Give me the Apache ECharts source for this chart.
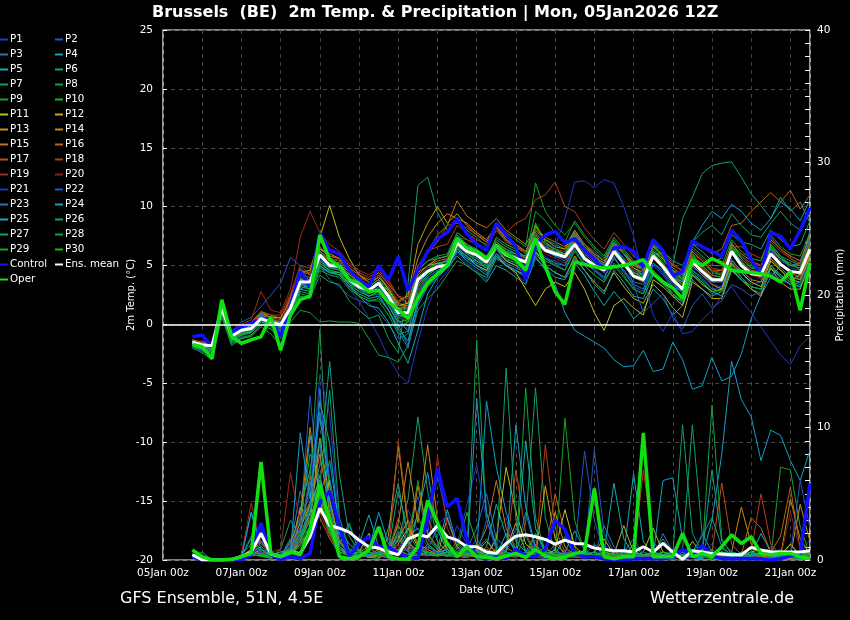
<!DOCTYPE html>
<html><head><meta charset="utf-8">
<script src="https://cdn.jsdelivr.net/npm/echarts@6/dist/echarts.min.js"></script>
<style>html,body{margin:0;padding:0;background:#000}#c{width:850px;height:620px}</style>
</head><body><div id="c"></div>
<script>
const FONT = 'DejaVu Sans';
const TITLE = 'Brussels  (BE)  2m Temp. & Precipitation | Mon, 05Jan2026 12Z';
const FOOT_LEFT = 'GFS Ensemble, 51N, 4.5E';
const FOOT_RIGHT = 'Wetterzentrale.de';
const X_TICK_LABELS = ['05Jan 00z','07Jan 00z','09Jan 00z','11Jan 00z','13Jan 00z','15Jan 00z','17Jan 00z','19Jan 00z','21Jan 00z'];
// forecast steps: hours after 05Jan 00z (05Jan 18z ... 21Jan 12z, every 6 h)
const STEP_HOURS = [];
for (let h = 18; h <= 396; h += 6) STEP_HOURS.push(h);

const MEMBER_NAMES = ['P1','P2','P3','P4','P5','P6','P7','P8','P9','P10','P11','P12','P13','P14','P15','P16','P17','P18','P19','P20','P21','P22','P23','P24','P25','P26','P27','P28','P29','P30'];
const MEMBER_COLORS = ['#2238c0','#1f58c4','#1e78c4','#12a0c8','#10acb0','#12a080','#12a062','#14a044','#14a428','#18b818',
  '#c0c018','#c4a818','#c49818','#c48818','#c07818','#b86418','#b45018','#b03c18','#a02c18','#902018',
  '#2238c0','#1f58c4','#1e78c4','#12a0c8','#10acb0','#12a080','#12a062','#14a044','#14a428','#18b818'];

// 2m temperature (°C)
const tControl = [-1.05,-0.9,-1.9,1.6,-0.75,-0.2,0.1,0.4, 0.5,-1.05,1.6,4.5,3.2,7.7,6.3,6.0, 4.6,3.8,3.2,5.0,3.8,5.75,2.9,4.6, 6.2,7.3,7.8,9.0,7.7,6.8,6.3,8.6, 7.6,6.6,3.8,6.7,7.6,7.9,6.9,7.3, 6.3,5.6,4.5,6.5,6.6,6.2,4.9,7.2, 6.3,4.1,4.5,7.1,6.6,6.2,5.8,8.0, 7.1,5.5,4.2,7.8,7.5,6.4,8.0,9.9];
const tOper = [-1.7,-1.9,-2.9,2.1,-1.05,-1.6,-1.3,-1.05, 0.65,-2.2,0.8,2.1,2.4,7.6,5.5,4.9, 3.8,3.5,2.8,2.9,1.9,1.3,0.5,2.2, 3.5,4.3,5.0,7.3,6.5,6.2,5.6,6.7, 6.0,5.5,4.6,7.3,4.9,2.8,1.7,5.3, 5.1,4.9,4.8,4.9,5.0,5.2,5.5,4.3, 3.6,3.1,2.2,5.5,5.0,5.6,5.2,4.6, 4.5,4.4,4.3,4.1,3.6,4.5,1.2,5.2];
const tMean = [-1.5,-1.75,-1.8,1.4,-1.0,-0.5,-0.35,0.5, 0.2,-0.05,1.4,3.6,3.6,5.9,5.0,4.95, 3.8,3.2,2.9,3.5,2.4,1.0,1.0,3.8, 4.5,4.9,5.0,6.9,6.2,5.9,5.3,6.7, 5.9,5.6,5.3,7.2,6.3,6.0,5.75,6.8, 5.6,5.0,4.6,6.2,5.2,4.1,3.8,5.8, 4.9,3.8,3.0,5.3,4.5,3.8,3.8,6.2, 5.0,4.3,4.2,6.0,5.1,4.5,4.4,6.4];

const tP1 = [-1.9,-2.3,-2.6,0.9,-1.5,-1.0,-0.6,0.3, 0.0,-0.5,1.0,3.2,3.8,6.2,5.5,4.6, 3.0,2.0,0.5,-1.0,-2.8,-4.2,-5.0,-1.5, 1.5,3.5,4.5,6.0,5.2,4.6,3.8,5.6, 5.2,4.2,3.6,6.0,5.8,5.2,4.6,7.0, 6.2,5.0,4.4,6.8,6.0,5.2,4.0,6.2, 5.0,3.6,2.6,4.8,4.4,3.4,3.2,6.0, 5.4,4.6,3.8,6.2,5.6,4.8,4.6,7.2];
const tP2 = [-1.6,-1.4,-1.6,1.5,-0.6,0.2,0.6,1.5, 2.5,3.5,5.7,5.0,4.2,5.0,3.8,3.2, 2.4,2.0,1.8,1.0,0.0,-1.2,-0.8,1.8, 3.5,4.2,5.2,6.5,5.8,5.2,4.8,6.0, 5.5,5.2,4.8,6.4,5.6,5.4,5.0,6.8, 5.6,4.8,4.0,5.6,4.6,3.2,2.8,5.0, 4.2,3.0,2.4,4.6,4.0,3.0,3.2,5.6, 4.4,3.4,3.6,5.6,4.6,3.8,4.2,6.6];
const tP3 = [-1.3,-1.6,-1.9,1.6,-0.8,-0.2,0.0,0.9, 0.5,0.2,2.2,4.0,3.2,5.2,4.5,4.2, 3.5,3.0,2.4,2.8,1.6,0.0,-1.8,2.2, 3.8,4.4,5.4,6.2,5.6,5.0,4.6,6.4, 5.4,5.0,4.6,7.0,6.2,5.8,5.4,6.8, 5.2,4.6,3.8,5.8,4.4,3.4,3.0,5.2, 4.4,3.2,2.8,5.0,4.2,3.6,3.8,6.6, 5.2,4.6,4.4,6.6,5.4,5.0,5.0,7.2];
const tP4 = [-1.4,-1.9,-2.0,1.2,-1.1,-0.5,-0.4,0.4, 0.1,-0.2,1.2,3.4,3.0,5.6,4.8,4.6, 3.6,3.0,2.6,3.2,2.0,0.4,-0.6,2.8, 4.0,4.6,5.0,6.4,5.6,5.4,4.8,6.0, 5.0,4.6,4.0,5.8,4.6,3.4,1.0,-0.5, -1.0,-1.5,-2.0,-3.0,-3.6,-3.5,-2.2,-4.0, -3.8,-1.5,-3.0,-5.5,-5.2,-2.8,-4.8,-4.4, -2.5,0.5,2.5,4.0,5.0,4.5,3.8,6.0];
const tP5 = [-1.5,-1.8,-2.3,1.1,-1.3,-0.8,-0.6,0.6, 0.3,-0.6,1.0,3.0,3.4,5.0,4.4,4.4, 3.4,2.4,1.6,1.4,0.2,-1.6,-3.3,-0.5, 2.6,4.0,4.8,5.8,5.0,4.4,3.6,5.0, 4.6,4.0,3.4,5.6,4.8,4.0,3.8,5.2, 4.2,2.8,1.6,2.8,1.8,0.5,1.2,3.0, 2.2,0.8,1.6,3.8,3.0,2.4,2.8,4.6, 3.8,3.0,2.6,4.8,4.0,3.4,4.4,8.0];
const tP6 = [-1.7,-1.9,-2.1,1.3,-1.0,-0.6,-0.5,0.5, 0.2,0.0,1.6,3.8,3.4,6.0,5.2,5.0, 4.0,3.4,3.0,3.6,2.6,1.4,1.2,4.0, 4.8,5.2,5.4,7.2,6.4,6.2,5.6,7.0, 6.2,6.0,5.8,7.6,6.6,6.2,6.0,7.4, 6.4,5.8,5.0,6.6,5.6,4.8,4.2,6.0, 6.0,5.0,9.0,10.8,12.8,13.5,13.7,13.8, 12.5,11.1,10.1,9.0,10.8,9.6,10.4,8.6];
const tP7 = [-1.8,-2.2,-2.8,1.8,-1.6,-1.2,-1.0,0.0, -0.4,-1.2,0.6,2.4,2.2,4.2,3.6,3.4, 2.0,1.2,0.5,0.8,-1.2,-2.4,3.5,11.8, 12.5,9.5,8.0,8.8,8.0,7.4,6.6,8.0, 7.2,6.6,6.2,8.4,7.2,6.8,6.4,8.0, 6.8,6.0,5.4,7.0,6.2,5.0,4.6,6.6, 5.8,4.4,3.6,6.2,5.4,4.4,4.2,7.0, 5.6,4.8,4.8,6.8,5.8,5.4,5.0,6.2];
const tP8 = [-2.0,-2.4,-3.0,0.6,-1.8,-1.2,-1.0,-0.2, -0.8,-1.8,0.2,1.2,1.0,0.2,0.3,0.2, 0.2,0.1,-1.2,-2.6,-2.8,-3.2,-1.8,1.2, 2.2,3.0,4.2,5.4,5.0,4.4,4.0,5.6, 5.0,4.6,4.0,6.2,5.4,5.0,4.6,6.4, 5.0,4.2,3.6,5.0,4.0,3.0,2.6,4.4, 3.6,2.4,2.0,4.2,3.6,2.6,3.0,5.2, 4.0,3.2,3.0,5.0,4.2,3.6,3.2,5.4];
const tP9 = [-1.6,-1.8,-2.0,1.6,-0.9,-0.4,-0.2,0.7, 0.3,0.1,1.4,3.9,3.8,6.6,5.6,5.4, 4.4,3.8,3.4,4.0,3.0,1.8,1.6,4.6, 5.4,5.8,6.0,7.8,7.2,6.8,6.4,8.6, 7.8,7.2,6.6,12.0,9.6,8.4,7.6,8.6, 7.4,6.4,5.6,7.2,6.2,5.2,4.8,6.4, 5.6,4.4,3.8,5.8,5.2,4.6,4.2,6.8, 5.8,5.0,4.6,6.6,5.6,5.2,4.6,6.4];
const tP10 = [-1.5,-1.9,-2.3,1.9,-1.2,-0.8,-0.6,0.3, 0.0,-0.4,1.3,3.4,3.4,5.8,5.2,5.0, 3.8,3.4,3.0,3.4,2.4,0.8,0.6,3.4, 4.4,4.8,5.6,7.0,6.6,6.0,5.4,7.4, 6.8,6.4,5.6,8.4,7.0,6.4,5.8,7.6, 6.4,5.4,4.6,6.6,5.2,4.2,3.8,6.0, 5.2,4.0,3.4,6.0,4.8,4.0,3.6,6.4, 5.4,4.4,4.2,6.8,5.8,5.0,5.2,7.0];
const tP11 = [-1.4,-1.6,-1.8,1.4,-0.8,-0.4,0.0,1.0, 0.6,0.6,2.0,4.4,4.6,7.4,10.1,7.4, 5.6,4.2,3.6,4.2,3.0,1.6,1.8,4.2, 5.0,5.2,5.0,6.4,5.8,5.0,4.6,5.8, 5.0,4.4,3.0,1.6,3.0,3.6,3.2,4.4, 3.0,1.0,-0.5,1.6,2.2,1.4,0.8,3.8, 3.2,2.4,1.6,4.2,3.4,2.8,3.0,5.2, 4.4,3.6,3.2,5.4,4.6,3.8,3.6,5.8];
const tP12 = [-1.5,-1.7,-2.0,1.2,-1.0,-0.6,-0.4,0.4, 0.1,-0.1,1.5,3.6,3.8,6.4,6.0,5.6, 4.4,3.6,3.2,3.8,2.8,1.4,1.4,4.4, 5.0,5.6,5.8,7.4,6.8,6.2,5.4,6.4, 5.4,5.0,4.2,6.2,5.0,4.4,4.0,5.8, 4.6,3.6,2.8,4.4,3.2,2.2,1.8,3.4, 2.6,1.4,0.6,3.6,3.0,2.2,2.2,4.6, 3.8,3.0,2.4,4.8,3.6,3.0,3.0,5.2];
const tP13 = [-1.6,-1.8,-1.9,1.3,-1.1,-0.6,-0.4,0.5, 0.2,0.0,1.6,3.8,3.6,6.0,5.4,5.2, 4.2,3.6,3.2,3.8,2.8,1.8,2.6,6.8, 8.6,10.0,8.6,9.4,8.4,7.6,7.0,8.2, 7.4,6.8,6.2,8.0,7.2,6.6,6.4,7.8, 6.6,5.8,5.2,6.8,6.0,4.8,4.4,6.2, 5.6,4.6,3.8,5.6,5.0,4.2,4.0,6.2, 5.2,4.4,4.0,6.0,5.2,4.6,4.2,6.0];
const tP14 = [-1.5,-1.6,-1.7,1.5,-0.9,-0.3,-0.1,0.8, 0.5,0.2,1.8,4.2,4.0,6.2,5.6,5.4, 4.6,4.0,3.6,4.0,3.2,2.0,2.4,5.6, 7.4,8.6,9.4,9.0,8.6,7.8,7.2,8.4, 7.2,6.6,6.0,7.4,6.6,6.2,5.6,7.0, 5.8,5.0,4.4,6.0,5.0,4.0,3.6,5.6, 4.8,3.6,3.0,5.0,4.2,3.4,3.0,5.4, 4.6,3.8,3.6,5.6,4.8,4.0,3.8,5.6];
const tP15 = [-1.3,-1.5,-1.6,1.7,-0.7,-0.2,0.2,1.1, 0.8,0.5,2.2,4.6,4.2,6.4,5.8,5.6, 4.8,4.2,3.8,4.4,3.4,2.4,1.8,4.8, 6.2,7.6,8.4,10.5,9.2,8.6,8.2,9.0, 8.0,7.4,6.8,8.2,7.4,7.0,6.6,8.0, 6.8,6.0,5.4,7.0,6.0,5.2,4.6,6.6, 5.8,4.8,4.2,6.2,5.4,4.6,4.6,6.8, 6.0,5.4,5.0,7.2,6.4,5.8,5.4,7.6];
const tP16 = [-1.6,-1.7,-1.8,1.2,-1.0,-0.5,-0.3,0.6, 0.3,0.1,1.6,3.8,3.6,6.0,5.4,5.2, 4.2,3.6,3.2,3.8,2.8,1.4,1.6,4.2, 5.0,5.4,5.6,7.2,6.6,6.2,5.6,7.0, 6.4,6.0,5.6,7.4,6.6,6.2,6.0,7.6, 6.6,5.8,5.2,6.8,6.0,5.0,4.8,6.6, 6.0,5.0,4.6,6.8,6.6,6.0,6.4,8.4, 8.6,9.6,10.4,11.2,10.4,11.4,9.8,11.0];
const tP17 = [-1.7,-1.9,-2.2,1.0,-1.2,-0.7,-0.5,0.6, 0.6,0.4,2.4,4.6,4.4,6.6,5.8,5.6, 4.4,3.6,3.0,3.6,2.4,1.2,1.0,4.6, 6.0,7.0,8.4,8.6,8.2,7.6,7.2,8.2, 7.0,6.6,6.2,7.6,6.6,6.2,5.8,7.4, 6.2,5.6,5.0,6.4,5.6,4.6,4.2,6.0, 5.2,4.2,3.6,5.6,4.8,4.0,3.8,6.2, 5.2,4.6,4.4,6.4,5.2,4.4,4.0,6.0];
const tP18 = [-1.5,-1.7,-1.9,1.5,-0.8,-0.3,0.0,1.0, 0.8,0.8,2.6,5.0,4.8,7.0,6.2,6.0, 5.0,4.4,4.0,4.6,3.6,2.4,2.2,5.0, 6.2,6.6,6.8,8.4,7.8,7.2,6.8,8.2, 7.8,8.6,9.0,10.6,11.0,12.1,10.0,9.6, 8.2,7.2,6.4,7.8,6.8,5.8,5.2,7.0, 6.2,5.2,4.4,6.4,5.6,4.8,4.6,6.6, 6.6,6.0,5.6,7.4,6.4,5.6,5.2,7.0];
const tP19 = [-1.4,-1.5,-1.6,1.6,-0.6,0.0,0.4,2.8, 1.2,1.0,3.0,7.4,9.6,7.8,6.8,6.2, 5.2,4.6,4.2,4.8,3.8,2.4,1.4,3.4, 4.6,5.0,5.6,7.4,7.2,6.8,6.4,8.0, 7.0,6.6,6.0,7.8,6.8,6.4,6.2,7.8, 6.8,6.2,5.4,7.0,6.2,5.4,4.8,6.8, 5.8,4.6,4.0,6.0,5.4,4.6,4.4,6.6, 5.8,5.2,5.0,7.0,6.2,5.6,5.0,6.8];
const tP20 = [-1.6,-1.8,-2.0,1.3,-1.0,-0.5,-0.2,0.8, 0.5,0.3,2.0,4.2,4.0,6.2,5.6,5.4, 4.6,4.0,3.6,4.2,3.2,2.0,-0.2,2.8, 4.2,4.8,5.2,6.8,6.4,5.8,5.4,6.8, 6.0,5.6,5.2,7.0,6.0,5.6,5.2,6.8, 5.6,5.0,4.4,6.0,5.2,4.4,4.2,5.8, 5.0,3.8,3.2,5.2,4.8,4.2,4.0,6.2, 5.0,4.2,4.0,6.0,5.2,4.6,4.4,6.6];
const tP21 = [-1.7,-2.0,-2.4,1.1,-1.3,-0.8,-0.5,0.4, 0.0,-0.4,1.2,3.4,3.4,5.6,4.8,4.8, 3.6,3.0,2.6,3.0,1.8,0.2,-0.4,2.6, 3.8,4.4,5.2,6.6,6.0,5.6,5.0,6.4, 5.8,5.6,5.2,7.0,6.6,6.6,9.0,12.1, 12.2,11.6,12.3,12.0,10.0,7.5,4.0,0.8, -0.6,1.0,-0.8,-0.6,0.4,1.2,2.4,3.2, 2.0,1.0,-0.2,-1.4,-2.6,-3.4,-1.8,-1.0];
const tP22 = [-1.5,-1.8,-2.0,1.4,-1.0,-0.4,-0.2,0.7, 0.3,0.0,1.6,3.6,3.2,5.4,4.8,4.8, 3.8,3.2,2.6,3.2,2.0,0.6,0.2,3.0, 4.0,4.6,5.0,6.6,6.0,5.4,5.2,6.4, 5.8,5.4,5.0,6.8,6.2,5.8,5.6,7.4, 6.2,5.4,4.8,6.6,5.6,3.4,1.0,1.8, 2.6,0.6,-0.4,1.6,2.6,1.4,2.0,3.4, 3.0,2.4,2.8,4.4,3.8,3.4,3.6,5.4];
const tP23 = [-1.6,-1.9,-2.2,1.2,-1.2,-0.6,-0.3,0.5, 0.2,-0.2,1.4,4.8,3.6,5.4,4.6,4.4, 3.4,2.8,2.4,2.6,1.2,-0.6,-2.0,1.6, 3.2,4.0,5.0,6.2,5.6,5.0,4.4,6.0, 5.2,4.8,4.4,6.4,5.6,5.2,5.0,6.6, 5.4,4.6,4.0,5.6,4.6,3.6,3.4,5.2, 4.6,3.4,2.8,5.2,4.6,3.6,3.6,6.0, 5.0,4.4,4.2,6.4,5.6,5.0,5.2,7.4];
const tP24 = [-1.4,-1.7,-1.8,1.3,-0.9,-0.4,-0.1,0.8, 0.4,0.1,1.7,3.8,3.4,5.8,5.0,4.8, 3.8,3.2,2.8,3.4,2.2,0.8,0.6,3.4, 4.4,5.0,5.4,7.0,6.4,6.0,5.2,6.8, 6.0,5.8,5.4,7.2,6.4,6.2,5.8,7.4, 6.2,5.6,5.0,6.4,5.4,4.4,4.0,6.0, 5.0,4.0,3.6,7.0,8.4,9.6,9.0,10.2, 9.6,8.6,8.0,9.0,10.4,9.8,8.8,10.6];
const tP25 = [-1.8,-2.1,-2.4,1.0,-1.4,-0.9,-0.7,0.2, -0.1,-0.6,1.0,3.0,2.8,5.0,4.4,4.2, 3.2,2.6,2.2,2.4,1.2,-0.4,-1.4,2.0, 3.4,4.2,4.8,6.2,5.4,4.8,4.2,5.8, 5.0,4.6,4.2,6.0,5.0,4.4,4.0,5.6, 4.6,3.4,2.6,4.6,3.6,2.4,2.2,4.2, 3.4,2.6,1.8,4.4,3.6,2.8,2.4,4.8, 3.8,3.2,3.0,5.0,4.0,3.4,3.2,5.2];
const tP26 = [-1.5,-1.8,-2.1,1.4,-1.0,-0.5,-0.3,0.6, 0.3,0.0,1.5,3.6,3.6,6.2,5.4,5.2, 4.2,3.6,3.2,3.8,2.8,1.6,1.6,4.6, 5.4,5.6,5.8,7.6,6.8,6.4,5.8,7.2, 6.6,6.2,5.8,7.8,6.8,6.4,6.0,7.8, 6.6,6.0,5.4,7.0,6.0,5.2,4.8,6.8, 6.2,5.4,5.0,6.8,6.2,5.4,5.6,7.6, 7.0,6.8,6.4,8.0,7.2,6.6,6.8,8.8];
const tP27 = [-1.7,-2.0,-2.4,1.1,-1.3,-0.9,-0.7,0.2, -0.2,-0.8,0.8,2.8,2.6,4.8,4.4,4.2, 3.2,2.4,2.0,2.2,1.2,-0.2,0.2,3.2, 4.2,4.8,5.2,6.6,6.2,5.6,5.2,6.6, 6.2,5.8,5.4,7.4,6.4,6.0,5.8,7.2, 6.0,5.2,4.6,6.4,5.4,4.4,4.2,6.2, 5.4,4.6,4.2,7.0,7.8,8.4,7.6,9.4, 8.4,7.6,7.4,8.6,9.6,8.6,8.0,9.4];
const tP28 = [-1.6,-2.0,-2.2,1.7,-1.1,-0.7,-0.5,0.4, 0.1,-0.3,1.3,3.4,3.2,5.4,4.8,4.6, 3.6,3.0,2.6,3.0,2.0,0.6,0.8,3.6, 4.6,5.2,5.4,6.8,6.2,5.8,5.2,6.8, 6.4,6.0,5.8,9.6,8.8,7.8,7.0,8.8, 7.6,6.6,5.8,7.4,6.4,5.4,5.0,6.8, 5.8,4.6,4.0,6.6,5.8,5.0,5.0,7.2, 6.2,5.6,5.4,7.6,6.6,6.0,5.8,7.8];
const tP29 = [-1.9,-2.2,-2.7,0.8,-1.6,-1.1,-0.9,0.0, -0.4,-1.0,0.6,2.6,2.4,4.6,4.2,4.0, 3.0,2.4,2.0,2.0,0.8,-0.8,-0.6,2.6, 3.8,4.4,5.0,6.4,5.8,5.2,4.8,6.4, 5.6,5.2,4.8,6.6,5.6,5.0,4.6,6.2, 5.0,4.2,3.6,5.2,4.2,3.0,2.6,4.6, 3.8,2.6,2.0,4.6,3.8,3.0,2.8,5.0, 4.0,3.2,3.0,5.0,4.2,3.6,3.4,4.8];
const tP30 = [-1.6,-1.9,-2.5,1.5,-1.2,-0.8,-0.6,0.4, 0.0,-0.6,1.1,3.2,3.0,5.2,4.6,4.4, 3.4,2.8,2.4,2.8,1.6,0.2,0.4,3.2, 4.2,4.8,5.2,6.8,6.0,5.4,5.0,6.6, 5.8,5.4,5.2,8.6,7.0,6.2,6.0,7.6, 6.2,5.4,4.8,6.2,5.2,4.2,4.0,6.0, 5.2,4.0,3.4,5.8,5.0,4.2,4.0,6.6, 5.6,4.8,4.6,6.6,5.6,5.0,4.8,6.8];

// precipitation (mm / 6 h)
const pControl = [0.25,0,0,0,0,0.05,0.4,2.8, 0.4,0.05,0.25,0.1,0.5,4.3,5.2,2.5, 0.25,1.25,1.75,1.0,1.0,0.5,0.25,0.1, 3.1,6.9,4.0,4.65,1.5,0.25,0.1,0.25, 0.1,0.8,0.3,0.25,0.8,3.0,2.3,0.5, 0.25,0.25,0.1,0,0,0.1,0.1,0.1, 0.1,0.2,0.8,0.3,1.1,0.3,0.1,0.1, 0.1,0.1,0.1,0,0.1,0.3,0.4,5.8];
const pOper = [0.75,0.25,0,0,0.05,0.25,0.5,7.4, 0.5,0.25,0.6,0.4,2.3,5.7,3.0,0.25, 0.1,0.25,0.75,2.5,0.25,0.1,0.05,1.0, 4.5,2.8,1.25,0.25,1.0,0.25,0.2,0.1, 0.3,0.5,0.2,0.8,0.3,0.1,0.2,0.5, 0.6,5.4,0.25,0.1,0.25,0.25,9.6,0.25, 0.25,0.25,2.0,0.25,0.5,0.25,1.0,1.9, 1.25,1.75,0.5,0.4,0.5,0.5,0.25,0.1];
const pMean = [0.4,0,0,0,0.05,0.25,0.6,2.0, 0.45,0.25,0.6,0.5,1.75,3.9,2.6,2.4, 2.1,1.5,1.0,0.9,0.6,0.4,1.6,1.9, 1.75,2.6,1.75,1.5,1.0,1.0,0.6,0.5, 1.25,1.8,1.9,1.75,1.55,1.2,1.5,1.25, 1.2,0.9,0.8,0.7,0.7,0.6,1.0,0.6, 1.25,0.6,0.05,0.7,0.6,0.5,0.45,0.4, 0.4,0.95,0.75,0.6,0.6,0.6,0.6,0.7];

const pP1 = [0.3,0,0,0,0,0.2,0.8,1.5, 0.4,0.2,0.5,1.2,3.5,8.6,4.2,1.0, 0.6,1.8,0.9,0.3,0.2,1.5,3.8,2.2, 1.0,0.5,0.8,2.6,1.2,0.6,0.3,1.8, 3.2,0.8,0.4,1.5,0.6,0.2,0.8,0.3, 0.1,0.4,1.2,0.3,0,0.2,0.6,0.1, 0.3,0.8,0.2,0,0.4,1.2,0.3,0.1, 0.5,0.2,0,0.6,0.3,0.1,0.4,1.6];
const pP2 = [0.2,0,0,0,0,0.1,0.5,2.2, 0.3,0.1,1.2,2.8,12.4,5.0,1.6,0.4, 0.8,0.4,2.0,0.5,0.1,0.8,2.2,4.8, 2.0,6.4,3.0,1.0,0.4,1.6,0.5,0.3, 0.6,2.4,0.8,0.2,0.1,0.4,1.8,0.6, 8.2,3.0,0.5,0.2,0.1,0,0.3,0.2, 0.6,0.1,0,0.4,0.8,0.2,0.1,0, 0.2,0.6,0.3,0.1,0,1.2,0.4,0.2];
const pP3 = [0.4,0,0,0,0.1,0.3,1.8,0.6, 0.2,0.6,1.0,5.2,2.4,13.0,3.2,1.2, 2.6,0.8,0.3,0.1,1.0,2.6,1.2,0.8, 3.2,1.4,0.6,0.3,0.8,2.4,5.0,1.6, 1.0,0.4,3.6,0.8,0.3,1.2,0.5,0.2, 0.4,1.2,0.3,0.1,0.6,1.6,0.4,0.2, 2.0,0.6,0.3,0.2,0.1,0.5,0.9,0.3, 0.2,0.1,0.4,1.0,0.3,0.2,0.6,0.4];
const pP4 = [0.2,0,0,0,0,0.2,0.6,1.0, 0.5,0.3,1.6,2.2,9.4,4.8,7.5,2.4, 1.2,0.6,0.4,0.8,1.6,0.5,0.4,3.6, 6.6,2.2,0.8,0.4,1.2,0.6,12.0,7.0, 3.6,1.4,0.6,2.0,0.8,0.5,1.6,0.4, 0.3,0.6,0.2,0.1,0.4,0.8,0.2,0.1, 0.2,0.3,0.1,0.5,0.2,3.0,8.0,15.0, 12.1,10.8,7.5,9.8,9.4,7.5,6.0,8.3];
const pP5 = [0.3,0,0,0,0,0.3,3.6,1.2, 0.6,0.2,0.8,3.8,6.8,10.8,5.6,2.0, 0.6,1.2,3.4,1.0,0.3,0.6,1.8,2.4, 1.6,0.8,3.8,1.2,0.5,0.3,1.0,4.2, 1.8,0.6,0.3,1.2,0.4,0.2,0.6,2.2, 0.8,0.3,0.1,0.6,0.4,6.5,1.4,0.3, 0.2,0.1,0.4,0.2,0.1,0.6,0.4,0.2, 0.1,0.4,2.0,0.6,0.3,0.2,0.1,0.5];
const pP6 = [0.4,0,0,0,0,0.2,0.8,0.5, 0.3,0.4,0.6,1.6,4.2,7.2,15.0,6.4, 1.8,0.6,0.2,0.4,2.4,5.8,1.4,0.6, 0.8,2.4,0.6,0.2,0.4,1.2,0.6,0.3, 0.6,0.3,1.8,0.4,0.2,0.8,0.3,0.2, 0.4,0.2,1.0,0.3,0.1,0.4,0.3,0.6, 1.6,0.5,0.3,0.6,1.8,3.2,1.0,0.4, 0.3,0.2,0.1,0.4,0.8,0.3,0.2,0.1];
const pP7 = [0.5,0.1,0,0,0,0.4,1.2,0.6, 0.2,0.8,3.0,1.8,2.4,5.4,3.2,1.4, 0.4,0.2,1.0,2.2,0.8,1.4,4.6,10.8, 5.2,1.4,0.6,0.3,0.2,0.8,1.6,0.4, 0.2,0.6,2.8,13.0,3.2,0.6,0.3,0.2, 0.4,0.2,0.1,0.3,0.2,0.1,0.4,0.2, 0.1,0.3,0.8,10.2,2.0,0.6,0.2,0.1, 0.3,0.6,0.2,0.4,0.3,0.2,0.1,0.2];
const pP8 = [0.3,0.6,0,0,0,0.2,0.4,0.3, 0.1,0.4,0.8,2.2,6.0,17.4,4.4,1.2, 2.8,0.6,0.2,0.1,0.6,2.0,0.8,0.4, 1.2,0.6,0.3,0.2,0.6,16.6,3.0,0.8, 0.4,0.2,0.6,0.3,0.2,0.1,0.4,0.8, 0.3,0.2,0.1,0.6,0.4,0.2,0.1,0.3, 0.2,0.1,0.6,0.2,0.4,11.7,1.6,0.4, 0.2,0.1,0.3,0.2,0.4,0.3,0.2,0.1];
const pP9 = [0.2,0,0,0,0,0.1,0.6,1.8, 0.5,0.2,0.6,3.0,8.0,6.2,2.0,0.6, 0.3,1.6,0.6,0.2,0.8,2.6,1.2,6.0, 2.0,0.8,0.4,1.4,0.6,0.3,0.8,0.4, 1.0,0.4,0.2,2.0,0.6,0.3,10.7,3.0, 0.6,0.3,0.2,0.1,0.2,0.4,0.3,0.2, 0.1,0.4,0.6,0.3,0.2,0.1,0.3,0.5, 0.2,0.4,0.3,0.2,7.0,6.8,2.5,0.4];
const pP10 = [0.2,0,0,0,0,0.1,0.3,0.8, 0.4,0.2,0.6,1.8,3.6,4.4,2.6,0.8, 0.4,0.2,0.6,0.3,0.2,0.8,1.6,3.4, 1.2,0.6,0.4,0.8,3.6,1.2,0.6,0.3, 0.2,0.6,0.3,0.4,1.0,0.3,0.2,0.4, 0.6,0.2,0.1,0.4,0.2,1.2,0.3,0.1, 0.2,0.6,0.3,0.2,0.4,0.8,0.3,0.2, 0.1,0.3,0.6,0.2,0.1,0.4,0.3,0.2];
const pP11 = [0.2,0,0,0,0,0.2,0.4,0.6, 0.3,0.2,0.4,1.2,2.2,3.4,6.0,2.2, 0.6,0.4,0.2,0.6,0.4,1.2,2.4,1.0, 0.4,0.6,1.2,0.4,0.2,0.8,0.3,1.6, 7.0,3.6,1.2,0.6,0.3,0.8,3.8,1.0, 0.4,0.6,1.6,0.4,0.2,0.3,0.6,2.4, 0.6,0.3,0.2,1.4,0.5,0.3,0.2,0.4, 0.3,0.6,0.2,0.1,0.4,1.2,0.3,0.2];
const pP12 = [0.2,0,0,0,0,0.1,0.4,0.8, 0.3,0.2,1.0,2.4,4.2,6.0,3.0,1.0, 0.3,0.6,2.0,0.6,0.3,1.6,3.0,1.2, 0.6,0.3,3.2,1.0,0.4,0.2,0.6,0.3, 0.8,2.8,0.6,0.3,5.6,1.6,0.4,0.2, 0.3,0.2,0.6,0.4,2.6,0.6,0.2,0.1, 0.4,0.3,0.2,0.6,0.3,0.2,0.4,0.2, 0.2,0.6,0.8,0.3,0.2,0.1,0.3,0.4];
const pP13 = [0.2,0,0,0,0,0.3,0.8,0.4, 0.2,0.4,0.6,4.0,2.8,9.2,4.6,1.4, 0.6,0.4,0.2,0.3,1.8,8.6,2.6,1.2, 0.8,0.4,0.6,0.3,0.2,0.6,1.4,0.6, 0.4,0.3,0.2,0.8,0.4,3.6,1.0,0.3, 0.2,0.4,0.3,0.2,0.6,0.3,0.2,0.6, 0.3,0.2,0.4,0.3,0.2,0.6,0.3,0.2, 0.6,0.3,0.2,0.4,0.6,0.3,4.2,1.4];
const pP14 = [0.3,0,0,0,0,0.2,0.6,1.4, 0.4,0.2,1.4,3.2,10.0,4.6,2.0,0.8, 0.4,0.6,1.0,0.4,0.6,2.8,7.4,2.8, 8.7,3.0,0.8,0.4,0.3,0.6,0.4,0.8, 0.6,0.3,0.2,0.6,0.4,0.3,0.6,0.4, 0.2,0.3,0.6,0.2,0.4,0.2,0.3,0.2, 0.4,0.6,0.3,0.2,0.4,0.2,0.3,0.6, 4.0,1.2,0.4,0.2,0.3,4.6,1.6,0.4];
const pP15 = [0.2,0,0,0,0,0.2,0.5,0.8, 0.3,0.6,0.8,2.8,4.4,8.0,3.6,1.0, 0.5,0.4,0.6,0.2,0.8,1.8,0.6,5.6, 2.0,1.0,0.4,0.6,0.3,0.8,2.4,6.0, 2.4,0.8,0.4,0.3,0.6,0.2,0.4,0.3, 0.2,0.4,0.3,0.6,0.4,0.2,0.3,0.2, 0.4,0.3,0.2,0.4,0.3,0.6,0.3,0.2, 0.2,0.4,0.3,0.2,0.6,0.3,0.2,0.4];
const pP16 = [0.2,0,0,0,0,0.1,0.4,0.6, 0.4,0.3,0.6,1.6,3.0,5.6,2.4,0.8, 0.3,0.2,0.6,0.3,0.2,0.8,1.4,0.6, 0.4,0.3,0.6,0.3,0.2,0.4,0.6,0.3, 1.0,0.4,0.2,0.6,0.3,5.0,2.0,0.6, 0.3,0.2,0.4,0.2,0.3,0.2,0.6,0.3, 0.2,0.4,0.2,0.3,0.6,0.4,0.2,0.3, 0.4,3.2,2.4,0.6,1.8,5.5,0.8,0.3];
const pP17 = [0.3,0,0,0,0,0.2,0.8,0.4, 0.2,0.3,0.6,2.0,6.4,3.2,1.6,0.6, 0.4,0.6,0.3,0.8,0.6,3.2,1.2,0.6, 0.4,0.8,0.3,0.6,0.2,0.4,0.3,0.6, 0.3,6.8,2.0,0.6,0.4,0.2,0.3,0.6, 0.2,0.4,0.2,0.3,0.6,0.4,0.2,0.3, 0.2,0.3,0.6,0.2,0.4,0.6,5.8,1.2, 0.4,0.2,0.3,0.6,0.2,0.4,0.3,0.2];
const pP18 = [0.2,0,0,0,0,0.3,0.6,0.4, 0.3,0.2,0.4,1.6,3.2,4.8,2.2,0.8, 0.6,0.3,0.4,0.6,0.4,9.0,3.0,1.2, 0.6,0.4,0.3,0.6,0.4,0.3,1.0,0.4, 0.6,0.3,0.2,0.4,8.7,2.4,0.6,0.3, 0.2,0.4,0.3,0.2,0.6,0.3,6.8,1.4, 0.4,0.2,0.3,0.4,0.2,0.3,0.6,0.4, 0.3,0.6,5.0,1.2,0.4,0.3,0.2,0.6];
const pP19 = [0.2,0,0,0,0,0.4,4.3,1.2, 0.6,0.8,6.6,2.8,1.6,3.6,1.8,0.6, 0.4,0.3,0.6,0.4,0.3,1.2,0.6,0.4, 0.3,7.9,2.4,0.8,0.4,0.3,0.2,0.4, 0.3,0.2,0.4,0.6,0.3,0.2,0.4,0.2, 0.3,0.4,0.2,0.3,0.2,0.4,0.3,0.2, 0.4,0.3,0.2,0.3,0.4,0.2,0.3,0.4, 0.2,0.3,0.4,0.2,0.3,0.6,0.2,0.3];
const pP20 = [0.2,0,0,0,0,0.2,0.4,0.6, 0.3,0.2,0.6,1.4,2.4,4.0,2.0,0.6, 0.4,0.3,0.4,0.6,0.4,1.0,0.8,0.6, 0.4,0.6,0.3,0.4,0.2,0.6,0.3,0.4, 0.3,0.6,0.4,0.2,0.3,0.6,0.4,0.2, 0.4,0.3,0.2,0.4,0.3,0.2,0.4,0.3, 0.2,0.4,0.3,0.2,0.4,0.3,0.2,0.4, 0.3,0.2,0.4,0.3,0.2,3.6,0.8,0.3];
const pP21 = [0.3,0,0,0,0,0.2,0.6,0.8, 0.4,0.6,1.0,3.2,4.8,14.0,11.0,2.4, 0.8,0.6,0.4,0.3,0.6,1.4,0.8,0.6, 0.8,2.6,3.4,1.2,4.2,7.2,3.0,0.8, 0.6,0.4,0.3,0.6,0.4,0.3,0.6,0.4, 0.2,0.3,0.6,0.4,0.2,0.3,0.6,0.4, 0.3,0.2,0.4,0.6,0.3,0.2,0.4,0.3, 0.2,0.4,0.3,0.6,0.2,0.4,0.3,0.2];
const pP22 = [0.2,0,0,0,0,0.1,0.4,0.6, 0.3,0.2,0.8,2.4,6.0,4.2,2.0,0.8, 0.6,0.4,0.3,0.4,0.2,0.6,0.8,0.4, 0.3,0.6,0.4,0.3,0.6,0.4,3.0,1.2, 0.6,0.3,0.4,0.6,0.4,0.3,0.6,0.3, 0.4,8.3,2.0,0.6,0.3,0.2,0.4,0.3, 0.2,0.4,0.6,0.3,2.0,0.6,0.3,0.2, 0.3,0.2,0.4,0.3,0.6,0.4,6.0,2.4];
const pP23 = [0.3,0,0,0,0,0.2,0.6,0.4, 0.2,0.4,0.6,1.8,4.0,11.2,6.2,1.6, 0.6,0.4,0.2,0.6,0.8,1.6,0.6,0.4, 0.6,0.4,0.3,0.6,1.2,0.4,0.3,0.6, 0.4,0.3,0.6,0.4,0.3,0.6,0.4,0.3, 0.6,0.4,2.6,1.0,0.4,0.3,0.2,0.4, 0.3,0.6,0.4,0.2,0.3,0.6,0.4,0.3, 0.2,0.3,0.6,0.4,0.2,0.3,0.4,0.6];
const pP24 = [0.2,0,0,0,0,0.2,3.6,0.8, 0.4,0.3,0.6,9.6,4.6,12.0,8.8,2.0, 0.6,0.4,0.8,3.6,1.2,0.6,0.4,0.8, 1.0,0.6,0.8,0.4,0.3,12.2,3.6,1.0, 0.6,10.2,4.0,1.0,0.6,0.4,0.3,0.6, 0.4,0.3,0.6,0.4,0.3,0.6,0.4,0.3, 6.0,6.2,1.6,0.6,0.4,0.3,0.6,0.4, 0.3,0.4,0.6,0.3,0.2,0.4,0.3,0.2];
const pP25 = [0.3,0,0,0,0,0.3,0.6,0.4, 0.3,0.2,0.4,1.4,3.6,6.4,3.0,1.0, 0.4,0.6,0.3,0.4,0.6,2.2,1.0,0.6, 0.4,0.3,0.6,0.4,0.3,0.6,0.4,0.3, 2.0,0.6,9.0,2.4,0.6,0.4,0.3,0.6, 0.4,0.3,0.6,5.8,1.6,0.4,0.3,0.6, 0.4,0.3,0.6,0.4,0.3,0.6,0.4,0.3, 0.6,0.4,0.3,0.6,0.4,0.3,0.6,0.4];
const pP26 = [0.4,0.1,0,0,0,0.3,1.6,0.8, 0.4,0.6,0.8,2.0,5.6,9.0,4.0,1.2, 0.6,0.3,0.4,0.6,0.8,5.2,2.0,0.8, 0.6,0.4,0.6,0.3,0.4,0.6,0.8,0.4, 0.3,0.6,0.4,0.3,0.6,0.4,0.3,0.6, 0.4,0.3,0.6,0.4,0.3,0.6,0.4,0.3, 0.6,0.4,0.3,0.6,0.4,6.8,1.4,0.6, 0.4,0.3,0.6,0.4,0.3,0.6,0.4,0.3];
const pP27 = [0.3,0,0,0,0,0.2,0.6,0.4, 0.4,0.2,0.6,1.4,3.8,5.6,12.8,3.2, 0.8,0.4,0.3,0.6,0.4,0.6,0.4,0.3, 0.6,0.4,0.6,1.0,0.4,0.3,0.6,0.4, 14.5,3.0,0.6,0.4,0.3,0.6,0.4,0.3, 0.4,0.6,0.3,0.4,0.6,0.3,0.4,0.6, 0.3,0.4,10.2,2.0,0.6,0.4,0.3,0.6, 0.4,0.3,0.6,0.4,0.3,0.6,0.4,0.3];
const pP28 = [0.2,0,0,0,0,0.2,0.4,0.3, 0.2,0.4,0.6,1.2,2.6,4.8,2.2,0.6, 0.4,0.3,0.6,0.4,0.3,0.6,0.4,0.3, 0.6,0.4,0.3,0.6,0.4,0.6,0.3,0.4, 0.6,0.4,13.0,3.2,0.6,0.4,0.3,0.6, 0.4,0.3,0.6,0.4,0.3,0.6,0.4,0.3, 0.6,0.4,0.3,0.6,0.4,0.3,0.6,0.4, 0.3,0.6,0.4,0.3,0.6,0.4,0.3,0.6];
const pP29 = [0.2,0,0,0,0,0.2,0.3,0.4, 0.3,0.2,0.4,1.0,2.2,4.2,2.0,0.6, 0.3,0.4,0.6,0.3,0.4,0.6,0.3,0.4, 0.6,0.3,0.4,0.6,0.3,0.4,0.6,0.3, 0.4,0.6,0.3,0.4,0.6,0.3,0.4,0.6, 0.3,0.4,0.6,0.3,0.4,0.6,0.3,0.4, 0.6,0.3,0.4,0.6,0.3,0.4,0.6,0.3, 0.4,0.6,0.3,0.4,0.6,0.3,0.4,0.6];
const pP30 = [0.3,0,0,0,0,0.1,0.4,0.3, 0.2,0.3,0.6,1.4,3.0,5.2,2.4,0.8, 0.4,0.6,0.3,0.4,0.6,0.8,0.4,0.3, 0.6,0.4,0.3,0.6,0.4,0.3,0.6,0.4, 0.3,0.6,0.4,0.3,0.6,0.4,0.3,0.6, 0.4,0.3,0.6,0.4,0.3,0.6,0.4,0.3, 0.6,0.4,0.3,0.6,0.4,0.3,0.6,0.4, 0.3,0.6,0.4,0.3,0.6,0.4,0.3,0.6];

const TEMP_MEMBERS = [tP1,tP2,tP3,tP4,tP5,tP6,tP7,tP8,tP9,tP10,tP11,tP12,tP13,tP14,tP15,tP16,tP17,tP18,tP19,tP20,tP21,tP22,tP23,tP24,tP25,tP26,tP27,tP28,tP29,tP30];
const PREC_MEMBERS = [pP1,pP2,pP3,pP4,pP5,pP6,pP7,pP8,pP9,pP10,pP11,pP12,pP13,pP14,pP15,pP16,pP17,pP18,pP19,pP20,pP21,pP22,pP23,pP24,pP25,pP26,pP27,pP28,pP29,pP30];

const CONTROL_COLOR = '#1010ff', OPER_COLOR = '#10e010', MEAN_COLOR = '#ffffff';

function pairs(arr) { return arr.map((v, i) => [STEP_HOURS[i], v]); }
function lineSeries(name, arr, axis, color, width, extra) {
  return Object.assign({
    name: name, type: 'line', yAxisIndex: axis, data: pairs(arr),
    showSymbol: false, symbol: 'none', smooth: false, animation: false, silent: true,
    lineStyle: { color: color, width: width }, itemStyle: { color: color }
  }, extra || {});
}

const series = [];
MEMBER_NAMES.forEach((n, k) => series.push(lineSeries(n, TEMP_MEMBERS[k], 0, MEMBER_COLORS[k], 1)));
MEMBER_NAMES.forEach((n, k) => series.push(lineSeries(n, PREC_MEMBERS[k], 1, MEMBER_COLORS[k], 1)));
series.push(lineSeries('Control', tControl, 0, CONTROL_COLOR, 3.5));
series.push(lineSeries('Control', pControl, 1, CONTROL_COLOR, 3.5));
series.push(lineSeries('Ens. mean', tMean, 0, MEAN_COLOR, 3, {
  markLine: { silent: true, symbol: 'none', animation: false, label: { show: false },
    lineStyle: { color: '#ffffff', width: 1.5, type: 'solid' }, data: [{ yAxis: 0 }] }
}));
series.push(lineSeries('Ens. mean', pMean, 1, MEAN_COLOR, 3));
series.push(lineSeries('Oper', tOper, 0, OPER_COLOR, 3.5));
series.push(lineSeries('Oper', pOper, 1, OPER_COLOR, 3.5));

const col1 = [], col2 = [];
MEMBER_NAMES.forEach((n, k) => (k % 2 === 0 ? col1 : col2).push(n));
col1.push('Control', 'Oper');
col2.push('Ens. mean');

const legendBase = {
  orient: 'vertical', top: 33, itemWidth: 8, itemHeight: 2, itemGap: 2, icon: 'rect',
  selectedMode: false, padding: 0,
  textStyle: { color: '#ffffff', fontSize: 10.3, fontFamily: FONT, lineHeight: 13, padding: [0, 0, 0, -3] }
};

const chart = echarts.init(document.getElementById('c'), null, { renderer: 'canvas' });
chart.setOption({
  backgroundColor: '#000000',
  animation: false,
  textStyle: { fontFamily: FONT },
  title: [
    { text: TITLE, left: 147, top: 0, textStyle: { color: '#fff', fontSize: 16, fontWeight: 'bold', fontFamily: FONT } },
    { text: FOOT_LEFT, left: 115, top: 586, textStyle: { color: '#fff', fontSize: 16, fontWeight: 'normal', fontFamily: FONT } },
    { text: FOOT_RIGHT, left: 645, top: 586, textStyle: { color: '#fff', fontSize: 16, fontWeight: 'normal', fontFamily: FONT } }
  ],
  legend: [
    Object.assign({}, legendBase, { data: col1, left: 0 }),
    Object.assign({}, legendBase, { data: col2, left: 55 })
  ],
  grid: { left: 163, right: 40, top: 30, bottom: 60, outerBoundsMode: 'none', containLabel: false,
    show: true, borderColor: '#ffffff', borderWidth: 1.2, backgroundColor: 'transparent' },
  xAxis: {
    type: 'value', min: 0, max: 396, interval: 24,
    name: 'Date (UTC)', nameLocation: 'middle', nameGap: 25, nameMoveOverlap: false,
    nameTextStyle: { color: '#fff', fontSize: 10, fontFamily: FONT },
    axisLine: { show: false }, axisTick: { show: false },
    axisLabel: { color: '#fff', fontSize: 10.5, fontFamily: FONT, margin: 8, showMaxLabel: false,
      formatter: v => (v % 48 === 0 ? X_TICK_LABELS[v / 48] : '') },
    splitLine: { show: true, lineStyle: { color: '#444444', width: 1, type: [4, 4] } }
  },
  yAxis: [
    {
      type: 'value', min: -20, max: 25, interval: 5, position: 'left',
      name: '2m Temp. (°C)', nameLocation: 'middle', nameGap: 27, nameRotate: 90, nameMoveOverlap: false,
      nameTextStyle: { color: '#fff', fontSize: 10, fontFamily: FONT },
      axisLine: { show: false },
      axisTick: { show: true, inside: true, length: 4, lineStyle: { color: '#fff' } },
      axisLabel: { color: '#fff', fontSize: 10.5, fontFamily: FONT, margin: 10 },
      splitLine: { show: true, lineStyle: { color: '#444444', width: 1, type: [4, 4] } }
    },
    {
      type: 'value', min: 0, max: 40, interval: 10, position: 'right',
      name: 'Precipitation (mm)', nameLocation: 'middle', nameGap: 25, nameRotate: 90, nameMoveOverlap: false,
      nameTextStyle: { color: '#fff', fontSize: 10, fontFamily: FONT },
      axisLine: { show: false },
      axisTick: { show: true, inside: true, length: 5, lineStyle: { color: '#fff' } },
      minorTick: { show: true, splitNumber: 10, length: 5, lineStyle: { color: '#fff' } },
      axisLabel: { color: '#fff', fontSize: 10.5, fontFamily: FONT, margin: 7 },
      splitLine: { show: false }
    }
  ],
  series: series
});
</script></body></html>
